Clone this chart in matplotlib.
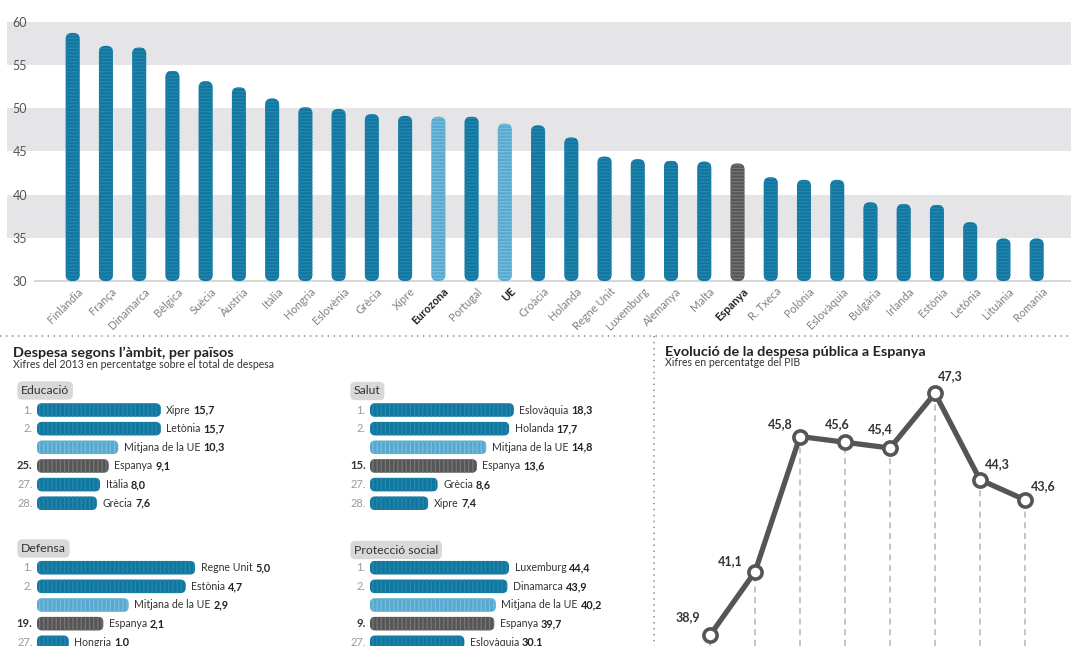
import matplotlib
matplotlib.use('Agg')
import matplotlib.pyplot as plt
import matplotlib.transforms as mtransforms
from matplotlib.patches import FancyBboxPatch
from matplotlib.lines import Line2D

# ---------------- data ----------------
countries = ['Finlàndia', 'França', 'Dinamarca', 'Bèlgica', 'Suècia', 'Àustria', 'Itàlia',
             'Hongria', 'Eslovènia', 'Grècia', 'Xipre', 'Eurozona', 'Portugal', 'UE',
             'Croàcia', 'Holanda', 'Regne Unit', 'Luxemburg', 'Alemanya', 'Malta', 'Espanya',
             'R. Txeca', 'Polònia', 'Eslovàquia', 'Bulgària', 'Irlanda', 'Estònia', 'Letònia',
             'Lituània', 'Romania']
spending = [58.7, 57.2, 57.0, 54.3, 53.1, 52.4, 51.1, 50.1, 49.9, 49.3, 49.1, 49.0, 49.0,
            48.2, 48.0, 46.6, 44.4, 44.1, 43.9, 43.8, 43.6, 42.0, 41.7, 41.7, 39.1, 38.9,
            38.8, 36.8, 34.9, 34.9]
yticks = [30, 35, 40, 45, 50, 55, 60]

edu_rank = ['1.', '2.', '', '25.', '27.', '28.']
edu_names = ['Xipre', 'Letònia', 'Mitjana de la UE', 'Espanya', 'Itàlia', 'Grècia']
edu_vals = [15.7, 15.7, 10.3, 9.1, 8.0, 7.6]

def_rank = ['1.', '2.', '', '19.', '27.']
def_names = ['Regne Unit', 'Estònia', 'Mitjana de la UE', 'Espanya', 'Hongria']
def_vals = [5.0, 4.7, 2.9, 2.1, 1.0]

sal_rank = ['1.', '2.', '', '15.', '27.', '28.']
sal_names = ['Eslovàquia', 'Holanda', 'Mitjana de la UE', 'Espanya', 'Grècia', 'Xipre']
sal_vals = [18.3, 17.7, 14.8, 13.6, 8.6, 7.4]

pro_rank = ['1.', '2.', '', '9.', '27.']
pro_names = ['Luxemburg', 'Dinamarca', 'Mitjana de la UE', 'Espanya', 'Eslovàquia']
pro_vals = [44.4, 43.9, 40.2, 39.7, 30.1]

evo_years = [2007, 2008, 2009, 2010, 2011, 2012, 2013, 2014]
evo_vals = [38.9, 41.1, 45.8, 45.6, 45.4, 47.3, 44.3, 43.6]
evo_label_offsets = [(-22, 18), (-25, 11), (-20, 12), (-8, 18), (-10, 19), (15, 17), (17, 16), (18, 14)]

# ---------------- style ----------------
plt.rcParams['font.family'] = ['Lato', 'DejaVu Sans']
plt.rcParams['hatch.linewidth'] = 0.9

BLUE, BLUE_H = '#10779f', '#2786b1'
LIGHT, LIGHT_H = '#58a9cf', '#7abddb'
GRAY, GRAY_H = '#565656', '#777777'
BAND = '#e5e5e7'

W, H = 1071, 646
fig = plt.figure(figsize=(W / 100, H / 100), dpi=100)
fig.patch.set_facecolor('white')


def add_ax(left, top, right, bottom):
    return fig.add_axes([left / W, 1 - bottom / H, (right - left) / W, (bottom - top) / H])


def fpx(x, y):
    return x / W, 1 - y / H


def kind_colors(name):
    if name in ('Eurozona', 'UE', 'Mitjana de la UE'):
        return LIGHT, LIGHT_H
    if name == 'Espanya':
        return GRAY, GRAY_H
    return BLUE, BLUE_H


def round_bars(ax, container, names, r_px, px_x, px_y, hatch):
    for rect, name in zip(container.patches, names):
        x, y = rect.get_xy()
        w, h = rect.get_width(), rect.get_height()
        rect.remove()
        fc, hc = kind_colors(name)
        p = FancyBboxPatch((x, y), w, h,
                           boxstyle=f'round,pad=0,rounding_size={r_px / px_x}',
                           mutation_aspect=px_x / px_y, facecolor=fc, edgecolor=hc,
                           linewidth=0, hatch=hatch, zorder=3)
        ax.add_patch(p)


# ---------------- top bar chart ----------------
top_l, top_t, top_r, top_b = 7, 21.7, 1071, 281
ax = add_ax(top_l, top_t, top_r, top_b)
px_x = 33.24
x0_px = 72.7
ax.set_xlim((top_l - x0_px) / px_x, (top_r - x0_px) / px_x)
ax.set_ylim(30, 60)
px_y = (top_b - top_t) / 30
for lo in (35, 45, 55):
    ax.axhspan(lo, lo + 5, color=BAND, zorder=0, lw=0)
ax.axhline(30, xmin=(35 - top_l) / (top_r - top_l), color='#cfcfcf', lw=1.2, clip_on=False, zorder=1)
xs = list(range(len(countries)))
bars = ax.bar(xs, [v - 30 for v in spending], bottom=30, width=14 / px_x)
round_bars(ax, bars, countries, 6, px_x, px_y, '-----')
for s in ax.spines.values():
    s.set_visible(False)
ax.set_yticks(yticks)
ax.set_yticklabels([str(t) for t in yticks], fontsize=9, color='#555555')
ax.tick_params(axis='y', length=0, pad=-14.5)
ax.set_xticks(xs)
ax.set_xticklabels(countries, rotation=45, ha='right', va='top', rotation_mode='anchor',
                   fontsize=8, color='#808080')
ax.tick_params(axis='x', length=0, pad=3.5)
off = mtransforms.ScaledTranslation(3.5 / 72, 0, fig.dpi_scale_trans)
for lab in ax.get_xticklabels():
    lab.set_transform(lab.get_transform() + off)
    if lab.get_text() in ('Eurozona', 'UE', 'Espanya'):
        lab.set_fontweight('bold')
        lab.set_color('#222222')

# ---------------- separators ----------------
fig.add_artist(Line2D([0, 1], [1 - 336 / H] * 2, transform=fig.transFigure,
                      color='#9a9a9a', lw=1.3, dashes=(0.8, 2.5)))
fig.add_artist(Line2D([654 / W] * 2, [1 - 336 / H, 0], transform=fig.transFigure,
                      color='#9a9a9a', lw=1.3, dashes=(0.8, 2.5)))

# ---------------- titles ----------------
fig.text(*fpx(13, 357), 'Despesa segons l’àmbit, per països', fontsize=10.4,
         fontweight='bold', color='#222222', va='baseline')
fig.text(*fpx(13, 367.5), 'Xifres del 2013 en percentatge sobre el total de despesa',
         fontsize=7.6, color='#333333', va='baseline')
fig.text(*fpx(665, 356), 'Evolució de la despesa pública a Espanya', fontsize=10.4,
         fontweight='bold', color='#222222', va='baseline')
fig.text(*fpx(665, 366.5), 'Xifres en percentatge del PIB', fontsize=7.6,
         color='#333333', va='baseline')

# ---------------- ranking panels ----------------
ROW = 18.65


def panel(title, title_xy, bar_left, row0, scale, ranks, names, vals):
    n = len(vals)
    top = row0 - ROW / 2
    axp = add_ax(bar_left, top, bar_left + 260, top + 6 * ROW)
    axp.set_xlim(0, 260 / scale)
    axp.set_ylim(5.5, -0.5)
    axp.axis('off')
    ys = list(range(n))
    bb = axp.barh(ys, vals, height=13.5 / ROW)
    round_bars(axp, bb, names, 5, scale, ROW, '||||')
    for i, (rk, nm, v) in enumerate(zip(ranks, names, vals)):
        if rk:
            esp = nm == 'Espanya'
            axp.annotate(rk, xy=(0, i), xytext=(-3.2, 0), textcoords='offset points',
                         ha='right', va='center', fontsize=8,
                         fontweight='bold' if esp else 'normal',
                         color='#333333' if esp else '#9a9a9a', annotation_clip=False)
        t1 = axp.annotate(nm, xy=(v, i), xytext=(4, 0), textcoords='offset points',
                          ha='left', va='center', fontsize=7.6, color='#333333',
                          annotation_clip=False)
        axp.annotate(f'{v:.1f}'.replace('.', ','), xy=(1, 0), xycoords=t1,
                     xytext=(2, 0), textcoords='offset points', ha='left', va='bottom',
                     fontsize=7.8, fontweight='bold', color='#222222', annotation_clip=False)
    fig.text(*fpx(*title_xy), title, fontsize=8.8, color='#333333', va='center',
             bbox=dict(boxstyle='round,pad=0.3,rounding_size=0.4', fc='#d8d8d8', ec='none'))


panel('Educació', (21, 390.5), 37, 410, 7.88, edu_rank, edu_names, edu_vals)
panel('Defensa', (21, 548.5), 37, 567.7, 31.6, def_rank, def_names, def_vals)
panel('Salut', (354, 391), 370, 410, 7.86, sal_rank, sal_names, sal_vals)
panel('Protecció social', (354, 550), 370, 567.7, 3.13, pro_rank, pro_names, pro_vals)

# ---------------- line chart ----------------
lt, lb = 340, 646
axl = add_ax(665, lt, 1071, lb)
ppu = 28.8
ref_v, ref_px = 47.3, 393.3
axl.set_ylim(ref_v - (lb - ref_px) / ppu, ref_v + (ref_px - lt) / ppu)
axl.set_xlim(2007 - (710 - 665) / 45, 2007 + (1071 - 710) / 45)
axl.axis('off')
ymin = axl.get_ylim()[0]
axl.vlines(evo_years, ymin, evo_vals, colors='#b5b5b5', lw=1.1, linestyles=(0, (4, 3)), zorder=1)
axl.plot(evo_years, evo_vals, color='#555555', lw=3.8, marker='o', ms=9.5, mfc='white',
         mec='#555555', mew=2.6, zorder=3, solid_joinstyle='miter', clip_on=False)
for xv, yv, (dx, dy) in zip(evo_years, evo_vals, evo_label_offsets):
    axl.annotate(f'{yv:.1f}'.replace('.', ','), xy=(xv, yv), xytext=(dx * 0.72, dy * 0.72),
                 textcoords='offset points', ha='center', va='center', fontsize=9,
                 fontweight='bold', color='#333333')

fig.savefig('out.png', dpi=100)
